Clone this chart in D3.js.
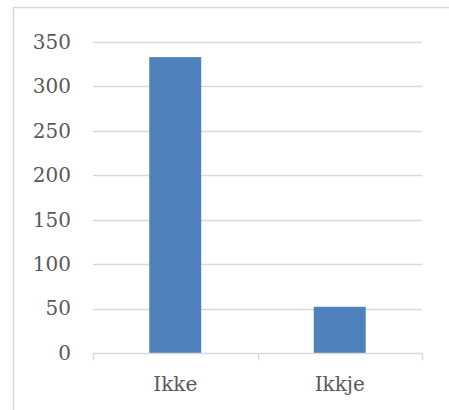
<!DOCTYPE html>
<html>
<head>
<meta charset="utf-8">
<script src="https://cdn.jsdelivr.net/npm/d3@7"></script>
<style>
  html, body { margin: 0; padding: 0; background: #fff; }
  svg { display: block; }
</style>
</head>
<body>
<svg id="chart" width="449" height="410"></svg>
<script>
// Counts per spelling variant
const categories = ["Ikke", "Ikkje"];
const counts = [333, 52];
const yTicks = [0, 50, 100, 150, 200, 250, 300, 350];

const svg = d3.select("#chart");
const W = 449, H = 410;
const font = "'DejaVu Serif', 'Liberation Serif', serif";
const textColor = "#595959";
const gridColor = "#d9d9d9";

// Chart frame (left and top edges visible in the window)
svg.append("rect")
  .attr("x", 13.5).attr("y", 7.5)
  .attr("width", W).attr("height", H)
  .attr("fill", "#fff")
  .attr("stroke", gridColor).attr("stroke-width", 1.6);

const plot = { left: 93, right: 422, top: 42, bottom: 353 };

const x = d3.scaleBand()
  .domain(categories)
  .range([plot.left, plot.right])
  .paddingInner(0.684)
  .paddingOuter(0.342);

const xOuter = d3.scaleBand()
  .domain(categories)
  .range([plot.left, plot.right])
  .padding(0);

const y = d3.scaleLinear()
  .domain([0, 350])
  .range([plot.bottom, plot.top]);

// Horizontal gridlines
svg.append("g")
  .selectAll("line")
  .data(yTicks.filter(d => d > 0))
  .join("line")
  .attr("x1", plot.left).attr("x2", plot.right)
  .attr("y1", d => Math.round(y(d)) + 0.5)
  .attr("y2", d => Math.round(y(d)) + 0.5)
  .attr("stroke", gridColor).attr("stroke-width", 1.4);

// Y axis labels
const yAxis = d3.axisLeft(y).tickValues(yTicks).tickSize(0).tickPadding(22);
svg.append("g")
  .attr("transform", `translate(${plot.left},0)`)
  .call(yAxis)
  .call(g => g.select(".domain").remove())
  .call(g => g.selectAll("text")
    .attr("font-family", font)
    .attr("font-size", 20)
    .attr("fill", textColor));

// Bars
svg.append("g")
  .selectAll("rect")
  .data(categories.map((c, i) => ({ c, v: counts[i] })))
  .join("rect")
  .attr("x", d => x(d.c))
  .attr("width", x.bandwidth())
  .attr("y", d => y(d.v))
  .attr("height", d => y(0) - y(d.v))
  .attr("fill", "#4f81bd");

// X axis: baseline with category separators
const xAxisG = svg.append("g")
  .attr("transform", `translate(0,${Math.round(y(0)) + 0.5})`);
xAxisG.append("line")
  .attr("x1", plot.left).attr("x2", plot.right)
  .attr("stroke", gridColor).attr("stroke-width", 1.4);
const boundaries = categories.map(c => xOuter(c)).concat([plot.right]);
xAxisG.selectAll("line.tick")
  .data(boundaries)
  .join("line")
  .attr("class", "tick")
  .attr("x1", d => Math.round(d) + 0.5).attr("x2", d => Math.round(d) + 0.5)
  .attr("y1", 0).attr("y2", 7)
  .attr("stroke", gridColor).attr("stroke-width", 1.4);

// Category labels
svg.append("g")
  .selectAll("text")
  .data(categories)
  .join("text")
  .attr("x", d => xOuter(d) + xOuter.bandwidth() / 2)
  .attr("y", 391)
  .attr("text-anchor", "middle")
  .attr("font-family", font)
  .attr("font-size", 20)
  .attr("fill", textColor)
  .text(d => d);
</script>
</body>
</html>
